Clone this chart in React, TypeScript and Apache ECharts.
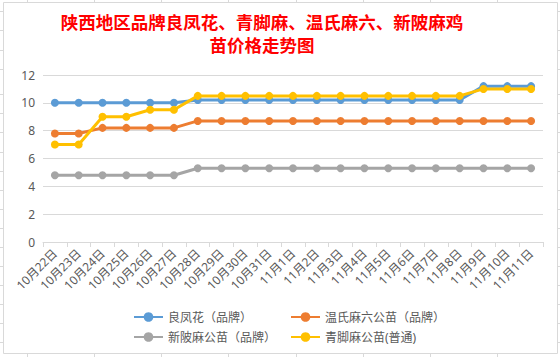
import React, { useEffect, useRef } from "react";
import * as echarts from "echarts";

const categories = [
  "10月22日", "10月23日", "10月24日", "10月25日", "10月26日", "10月27日", "10月28日",
  "10月29日", "10月30日", "10月31日", "11月1日", "11月2日", "11月3日", "11月4日",
  "11月5日", "11月6日", "11月7日", "11月8日", "11月9日", "11月10日", "11月11日",
];

const seriesNames = ["良凤花（品牌）", "温氏麻六公苗（品牌）", "新陂麻公苗（品牌）", "青脚麻公苗(普通)"];

const liangFengHua = [10, 10, 10, 10, 10, 10, 10.2, 10.2, 10.2, 10.2, 10.2, 10.2, 10.2, 10.2, 10.2, 10.2, 10.2, 10.2, 11.2, 11.2, 11.2];
const wenShiMaLiu = [7.8, 7.8, 8.2, 8.2, 8.2, 8.2, 8.7, 8.7, 8.7, 8.7, 8.7, 8.7, 8.7, 8.7, 8.7, 8.7, 8.7, 8.7, 8.7, 8.7, 8.7];
const xinPiMa = [4.8, 4.8, 4.8, 4.8, 4.8, 4.8, 5.3, 5.3, 5.3, 5.3, 5.3, 5.3, 5.3, 5.3, 5.3, 5.3, 5.3, 5.3, 5.3, 5.3, 5.3];
const qingJiaoMa = [7, 7, 9, 9, 9.5, 9.5, 10.5, 10.5, 10.5, 10.5, 10.5, 10.5, 10.5, 10.5, 10.5, 10.5, 10.5, 10.5, 11, 11, 11];

const colors = ["#5B9BD5", "#ED7D31", "#A5A5A5", "#FFC000"];
const yTicks = { min: 0, max: 12, interval: 2 };

const titleText = "陕西地区品牌良凤花、青脚麻、温氏麻六、新陂麻鸡\n苗价格走势图";

// spreadsheet background grid (decoration)
const sheetCols = [27, 94, 161, 228, 296, 363, 430, 497];
const sheetRows = [11, 30, 50, 69, 94, 113, 132, 152, 171, 190, 209, 228, 247, 266, 285, 304, 323, 342];

const FONT = '"Noto Sans", "Noto Sans CJK SC", sans-serif';

export default function App() {
  const ref = useRef<HTMLDivElement>(null);

  useEffect(() => {
    const chart = echarts.init(ref.current!, null, { renderer: "svg" });
    const lineColor = "#d9d9d9";
    const graphics: any[] = [];
    sheetCols.forEach((x) => {
      graphics.push({ type: "line", silent: true, shape: { x1: x + 0.5, y1: 0, x2: x + 0.5, y2: 2.5 }, style: { stroke: lineColor, lineWidth: 1 } });
      graphics.push({ type: "line", silent: true, shape: { x1: x + 0.5, y1: 353.5, x2: x + 0.5, y2: 357 }, style: { stroke: lineColor, lineWidth: 1 } });
    });
    sheetRows.forEach((y) => {
      graphics.push({ type: "line", silent: true, shape: { x1: 0, y1: y + 0.5, x2: 3.5, y2: y + 0.5 }, style: { stroke: lineColor, lineWidth: 1 } });
      graphics.push({ type: "line", silent: true, shape: { x1: 557.5, y1: y + 0.5, x2: 560, y2: y + 0.5 }, style: { stroke: lineColor, lineWidth: 1 } });
    });
    graphics.push({
      type: "rect",
      silent: true,
      shape: { x: 3.5, y: 2.5, width: 554, height: 351 },
      style: { fill: "none", stroke: lineColor, lineWidth: 1 },
    });
    graphics.push({
      type: "text",
      silent: true,
      x: 262,
      y: 10,
      style: {
        text: titleText,
        textAlign: "center",
        textVerticalAlign: "top",
        fontSize: 17.5,
        fontWeight: "bold",
        lineHeight: 23,
        fill: "#FF0000",
        fontFamily: '"Noto Sans CJK SC", sans-serif',
      },
    });

    const dataSets = [liangFengHua, wenShiMaLiu, xinPiMa, qingJiaoMa];

    chart.setOption({
      animation: false,
      backgroundColor: "#ffffff",
      color: colors,
      graphic: graphics,
      grid: { left: 43, right: 17, top: 75, bottom: 115, containLabel: false },
      legend: [
        {
          data: [seriesNames[0], seriesNames[2]],
          orient: "vertical",
          left: 128,
          top: 306,
          itemWidth: 29,
          itemHeight: 12,
          itemGap: 8,
          textStyle: { fontSize: 12, color: "#595959", fontFamily: FONT },
        },
        {
          data: [seriesNames[1], seriesNames[3]],
          orient: "vertical",
          left: 285,
          top: 306,
          itemWidth: 29,
          itemHeight: 12,
          itemGap: 8,
          textStyle: { fontSize: 12, color: "#595959", fontFamily: FONT },
        },
      ],
      xAxis: {
        type: "category",
        data: categories,
        boundaryGap: true,
        axisLine: { show: true, lineStyle: { color: lineColor, width: 1 } },
        axisTick: { show: true, alignWithLabel: false, length: 5, lineStyle: { color: lineColor } },
        axisLabel: {
          interval: 0,
          rotate: 45,
          fontSize: 12,
          color: "#595959",
          margin: 9,
          fontFamily: FONT,
        },
        splitLine: { show: false },
      },
      yAxis: {
        type: "value",
        min: yTicks.min,
        max: yTicks.max,
        interval: yTicks.interval,
        axisLine: { show: false },
        axisTick: { show: false },
        axisLabel: { fontSize: 12, color: "#595959", margin: 8, fontFamily: FONT },
        splitLine: { show: true, lineStyle: { color: lineColor, width: 1 } },
      },
      series: seriesNames.map((name, i) => ({
        name,
        type: "line",
        data: dataSets[i],
        symbol: "circle",
        symbolSize: 8,
        lineStyle: { width: 3, color: colors[i] },
        itemStyle: { color: colors[i] },
        z: 2 + i,
      })),
    });

    return () => chart.dispose();
  }, []);

  return (
    <div
      ref={ref}
      style={{ position: "fixed", left: 0, top: 0, width: 560, height: 357, background: "#ffffff" }}
    />
  );
}
